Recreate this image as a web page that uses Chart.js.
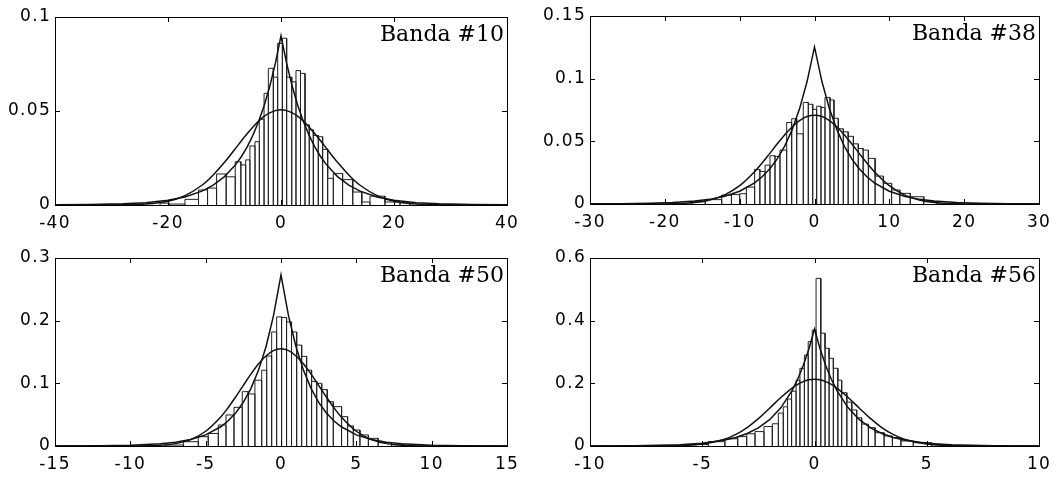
<!DOCTYPE html>
<html>
<head>
<meta charset="utf-8">
<script src="https://cdn.jsdelivr.net/npm/chart.js@4.4.1/dist/chart.umd.min.js"></script>
<style>
  html, body { margin: 0; padding: 0; background: #fff; }
  #wrap { position: relative; width: 1064px; height: 478px; }
  canvas { position: absolute; }
</style>
</head>
<body>
<div id="wrap">
  <canvas id="b10" width="532" height="239" style="left:0;top:0"></canvas>
  <canvas id="b38" width="532" height="239" style="left:532px;top:0"></canvas>
  <canvas id="b50" width="532" height="239" style="left:0;top:239px"></canvas>
  <canvas id="b56" width="532" height="239" style="left:532px;top:239px"></canvas>
</div>
<script>
// Banda #10
const edges10 = [-21.4, -19.8, -17.0, -14.6, -13.0, -11.4, -9.7, -8.1, -7.1, -6.25, -5.5, -4.6, -3.84, -3.0, -2.24, -1.36, -0.59, 0.24, 1.0, 1.9, 2.65, 3.45, 4.25, 5.0, 5.72, 6.6, 7.37, 8.26, 9.26, 10.9, 12.7, 14.3, 15.75, 18.4, 21.06, 22.8]
const hist10 = [0.001, 0.0005, 0.003, 0.008, 0.009, 0.0165, 0.015, 0.023, 0.0213, 0.024, 0.0314, 0.0337, 0.0456, 0.0594, 0.0727, 0.068, 0.086, 0.0887, 0.068, 0.0655, 0.0715, 0.070, 0.0426, 0.040, 0.037, 0.0363, 0.0296, 0.0142, 0.0167, 0.0135, 0.0069, 0.0016, 0.0047, 0.0016, 0.0012]
const curveX10 = [-40, -34, -28, -24, -20, -17, -14, -12, -10, -8, -7, -6, -5, -4, -3, -2, -1, 0, 1, 2, 3, 4, 5, 6, 7, 8, 10, 12, 14, 17, 20, 24, 28, 34, 40]
const gauss10 = [0, 0, 0.0001, 0.0005, 0.0020, 0.0050, 0.0105, 0.0160, 0.0227, 0.0303, 0.0342, 0.0379, 0.0414, 0.0445, 0.0471, 0.0490, 0.0502, 0.0506, 0.0502, 0.0490, 0.0471, 0.0445, 0.0414, 0.0379, 0.0342, 0.0303, 0.0227, 0.0160, 0.0105, 0.0050, 0.0020, 0.0005, 0.0001, 0, 0]
const lap10 = [0.0001, 0.0002, 0.0006, 0.0012, 0.0025, 0.0043, 0.0074, 0.0106, 0.0151, 0.0216, 0.0258, 0.0308, 0.0369, 0.0441, 0.0527, 0.0630, 0.0753, 0.0900, 0.0753, 0.0630, 0.0527, 0.0441, 0.0369, 0.0308, 0.0258, 0.0216, 0.0151, 0.0106, 0.0074, 0.0043, 0.0025, 0.0012, 0.0006, 0.0002, 0.0001]

// Banda #38
const edges38 = [-16.4, -14.6, -12.4, -11.1, -10.0, -9.1, -8.0, -7.3, -6.6, -5.95, -5.28, -4.61, -3.72, -3.05, -2.38, -1.5, -0.83, -0.24, 0.29, 0.87, 1.4, 2.07, 2.6, 3.18, 3.85, 4.5, 5.2, 5.85, 6.5, 7.2, 8.1, 9.2, 10.3, 11.4, 12.8, 14.6, 16.4]
const hist38 = [0.0018, 0.0035, 0.0070, 0.0075, 0.0082, 0.0135, 0.0276, 0.0260, 0.0310, 0.0385, 0.0380, 0.0430, 0.0650, 0.0680, 0.0560, 0.0810, 0.0796, 0.0755, 0.0780, 0.0770, 0.0850, 0.0830, 0.0684, 0.0600, 0.0576, 0.0540, 0.0480, 0.0443, 0.0430, 0.0364, 0.0223, 0.0165, 0.0112, 0.0085, 0.0058, 0.0020]
const curveX38 = [-30, -26, -22, -19, -16, -14, -12, -10, -8, -7, -6, -5, -4, -3, -2, -1, 0, 1, 2, 3, 4, 5, 6, 7, 8, 10, 12, 14, 16, 19, 22, 26, 30]
const gauss38 = [0, 0, 0, 0.0002, 0.0012, 0.0032, 0.0073, 0.0146, 0.0258, 0.0327, 0.0402, 0.0478, 0.0551, 0.0615, 0.0666, 0.0698, 0.0709, 0.0698, 0.0666, 0.0615, 0.0551, 0.0478, 0.0402, 0.0327, 0.0258, 0.0146, 0.0073, 0.0032, 0.0012, 0.0002, 0, 0, 0]
const lap38 = [0.0001, 0.0002, 0.0005, 0.0011, 0.0023, 0.0037, 0.0062, 0.0102, 0.0169, 0.0217, 0.0279, 0.0358, 0.0460, 0.0591, 0.0759, 0.0975, 0.1253, 0.0975, 0.0759, 0.0591, 0.0460, 0.0358, 0.0279, 0.0217, 0.0169, 0.0102, 0.0062, 0.0037, 0.0023, 0.0011, 0.0005, 0.0002, 0.0001]

// Banda #50
const edges50 = [-7.7, -6.48, -5.49, -4.83, -4.16, -3.65, -3.12, -2.57, -2.17, -1.73, -1.28, -0.95, -0.62, -0.29, 0.04, 0.37, 0.7, 1.04, 1.37, 1.7, 2.03, 2.37, 2.7, 3.07, 3.47, 4.02, 4.42, 4.8, 5.24, 5.8, 6.45, 7.34, 8.23]
const hist50 = [0.0015, 0.0069, 0.0149, 0.0200, 0.0335, 0.0495, 0.0617, 0.0867, 0.0830, 0.1050, 0.1210, 0.1436, 0.1820, 0.2060, 0.2050, 0.1980, 0.1820, 0.1610, 0.1430, 0.1210, 0.1030, 0.1000, 0.0900, 0.0707, 0.0628, 0.0468, 0.0320, 0.0255, 0.0176, 0.0122, 0.0053, 0.0020]
const curveX50 = [-15, -12, -10, -8, -7, -6, -5, -4, -3.5, -3, -2.5, -2, -1.5, -1, -0.5, 0, 0.5, 1, 1.5, 2, 2.5, 3, 3.5, 4, 5, 6, 7, 8, 10, 12, 15]
const gauss50 = [0, 0, 0.0001, 0.0012, 0.0038, 0.0102, 0.0235, 0.0463, 0.0615, 0.0786, 0.0967, 0.1146, 0.1308, 0.1437, 0.1521, 0.1550, 0.1521, 0.1437, 0.1308, 0.1146, 0.0967, 0.0786, 0.0615, 0.0463, 0.0235, 0.0102, 0.0038, 0.0012, 0.0001, 0, 0]
const lap50 = [0.0001, 0.0004, 0.0012, 0.0034, 0.0060, 0.0103, 0.0178, 0.0307, 0.0403, 0.0530, 0.0696, 0.0915, 0.1203, 0.1580, 0.2077, 0.2730, 0.2077, 0.1580, 0.1203, 0.0915, 0.0696, 0.0530, 0.0403, 0.0307, 0.0178, 0.0103, 0.0060, 0.0034, 0.0012, 0.0004, 0.0001]

// Banda #56
const edges56 = [-5.77, -4.73, -3.99, -3.42, -3.02, -2.65, -2.25, -1.88, -1.61, -1.39, -1.2, -1.02, -0.82, -0.65, -0.45, -0.28, -0.1, 0.07, 0.28, 0.47, 0.65, 0.84, 1.04, 1.21, 1.44, 1.66, 1.88, 2.1, 2.4, 2.7, 3.1, 3.47, 3.85, 4.4, 5.22, 6.1]
const hist56 = [0.0050, 0.0138, 0.0230, 0.0300, 0.0390, 0.0460, 0.0620, 0.0710, 0.1050, 0.1250, 0.1500, 0.1750, 0.2100, 0.2480, 0.2900, 0.3330, 0.3700, 0.5350, 0.3600, 0.3120, 0.2800, 0.2480, 0.2100, 0.1700, 0.1400, 0.1150, 0.0900, 0.0700, 0.0585, 0.0425, 0.0320, 0.0266, 0.0160, 0.0106, 0.0050]
const curveX56 = [-10, -8, -7, -6, -5, -4, -3.5, -3, -2.5, -2, -1.5, -1, -0.75, -0.5, -0.25, 0, 0.25, 0.5, 0.75, 1, 1.5, 2, 2.5, 3, 3.5, 4, 5, 6, 7, 8, 10]
const gauss56 = [0, 0, 0.0002, 0.0013, 0.0061, 0.0218, 0.0372, 0.0590, 0.0874, 0.1205, 0.1546, 0.1847, 0.1966, 0.2055, 0.2111, 0.2130, 0.2111, 0.2055, 0.1966, 0.1847, 0.1546, 0.1205, 0.0874, 0.0590, 0.0372, 0.0218, 0.0061, 0.0013, 0.0002, 0, 0]
const lap56 = [0.0002, 0.0010, 0.0020, 0.0043, 0.0089, 0.0189, 0.0274, 0.0398, 0.0577, 0.0839, 0.1218, 0.1768, 0.2131, 0.2568, 0.3095, 0.3730, 0.3095, 0.2568, 0.2131, 0.1768, 0.1218, 0.0839, 0.0577, 0.0398, 0.0274, 0.0189, 0.0089, 0.0043, 0.0020, 0.0010, 0.0002]


Chart.defaults.font.family = '"DejaVu Sans", sans-serif'
Chart.defaults.font.size = 17
Chart.defaults.color = '#000'

// each bar is an outline from the baseline, so shared edges run down to zero
function histPoints(edges, heights) {
  const pts = []
  heights.forEach((h, i) => {
    pts.push({x: edges[i], y: 0}, {x: edges[i], y: h}, {x: edges[i + 1], y: h}, {x: edges[i + 1], y: 0})
  })
  return pts
}

function curvePoints(xs, ys) {
  return xs.map((x, i) => ({x: x, y: ys[i]}))
}

// matlab style labels: 0.1 not 0.10
function plainTick(value) {
  return String(Math.round(value * 1000) / 1000)
}

// box round the plot, inward ticks on all four sides and the band label
const frame = {
  id: 'frame',
  beforeDraw(chart) {
    chart.ctx.letterSpacing = '1.3px'
  },
  afterDatasetsDraw(chart, args, opts) {
    const {ctx, chartArea: a, scales} = chart
    ctx.save()
    ctx.strokeStyle = '#000'
    ctx.lineWidth = 1
    ctx.beginPath()
    scales.x.ticks.forEach(t => {
      const px = Math.round(scales.x.getPixelForValue(t.value)) + 0.5
      ctx.moveTo(px, a.bottom); ctx.lineTo(px, a.bottom - 5)
      ctx.moveTo(px, a.top); ctx.lineTo(px, a.top + 5)
    })
    scales.y.ticks.forEach(t => {
      const py = Math.round(scales.y.getPixelForValue(t.value)) + 0.5
      ctx.moveTo(a.left, py); ctx.lineTo(a.left + 5, py)
      ctx.moveTo(a.right, py); ctx.lineTo(a.right - 5, py)
    })
    ctx.stroke()
    ctx.strokeRect(a.left + 0.5, a.top + 0.5, a.right - a.left, a.bottom - a.top)

    ctx.letterSpacing = '0px'
    ctx.font = '22px "DejaVu Serif", serif'
    ctx.fillStyle = '#000'
    ctx.textAlign = 'right'
    ctx.textBaseline = 'alphabetic'
    ctx.fillText(opts.label, a.right - 3, a.top + 24)
    ctx.restore()
  }
}

function makePanel(id, cfg) {
  new Chart(document.getElementById(id), {
    type: 'line',
    data: {
      datasets: [
        {
          data: curvePoints(cfg.cx, cfg.lap),
          borderColor: '#111',
          borderWidth: 1.5,
          tension: 0,
          pointRadius: 0
        },
        {
          data: curvePoints(cfg.cx, cfg.gauss),
          borderColor: '#111',
          borderWidth: 1.5,
          tension: 0.35,
          pointRadius: 0
        },
        {
          data: histPoints(cfg.edges, cfg.hist),
          borderColor: '#222',
          borderWidth: 1,
          tension: 0,
          pointRadius: 0
        }
      ]
    },
    options: {
      responsive: false,
      animation: false,
      devicePixelRatio: 1,
      layout: {padding: {top: cfg.padTop, right: 25, left: 0, bottom: 0}},
      plugins: {
        legend: {display: false},
        tooltip: {enabled: false},
        frame: {label: cfg.label}
      },
      scales: {
        x: {
          type: 'linear',
          min: cfg.xMin,
          max: cfg.xMax,
          ticks: {stepSize: cfg.xStep, padding: 8, callback: plainTick},
          grid: {display: false, drawTicks: false},
          border: {display: false},
          afterFit: s => { s.height = cfg.xHeight }
        },
        y: {
          min: 0,
          max: cfg.yMax,
          ticks: {stepSize: cfg.yStep, padding: 4, callback: plainTick},
          grid: {display: false, drawTicks: false},
          border: {display: false},
          afterFit: s => { s.width = cfg.yWidth }
        }
      }
    },
    plugins: [frame]
  })
}

makePanel('b10', {label: 'Banda #10', edges: edges10, hist: hist10, cx: curveX10, gauss: gauss10, lap: lap10,
  xMin: -40, xMax: 40, xStep: 20, yMax: 0.1, yStep: 0.05, padTop: 17, xHeight: 34, yWidth: 55})
makePanel('b38', {label: 'Banda #38', edges: edges38, hist: hist38, cx: curveX38, gauss: gauss38, lap: lap38,
  xMin: -30, xMax: 30, xStep: 10, yMax: 0.15, yStep: 0.05, padTop: 16, xHeight: 35, yWidth: 58})
makePanel('b50', {label: 'Banda #50', edges: edges50, hist: hist50, cx: curveX50, gauss: gauss50, lap: lap50,
  xMin: -15, xMax: 15, xStep: 5, yMax: 0.3, yStep: 0.1, padTop: 19, xHeight: 32, yWidth: 55})
makePanel('b56', {label: 'Banda #56', edges: edges56, hist: hist56, cx: curveX56, gauss: gauss56, lap: lap56,
  xMin: -10, xMax: 10, xStep: 5, yMax: 0.6, yStep: 0.2, padTop: 19, xHeight: 32, yWidth: 58})
</script>
</body>
</html>
